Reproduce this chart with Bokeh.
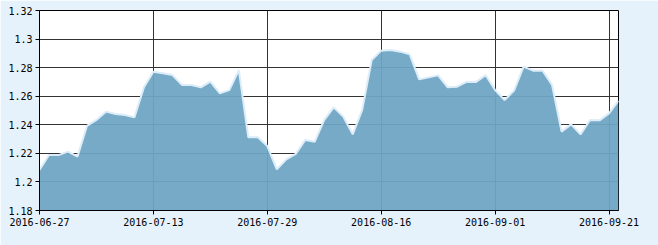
from bokeh.plotting import figure
from bokeh.models import Range1d, FixedTicker, CustomJSTickFormatter
from bokeh.embed import file_html
from bokeh.resources import INLINE

# Trading-day labels (tick every 12 trading days)
tick_index = [0, 12, 24, 36, 48, 60]
tick_labels = ["2016-06-27", "2016-07-13", "2016-07-29", "2016-08-16", "2016-09-01", "2016-09-21"]

# Net value series (62 trading days, 2016-06-27 .. 2016-09-22)
values = [
    1.2083, 1.2188, 1.2188, 1.2212, 1.2177, 1.2392, 1.2434, 1.2492, 1.2476, 1.2469,
    1.2452, 1.2662, 1.2772, 1.2760, 1.2748, 1.2679, 1.2679, 1.2662, 1.2702, 1.2620,
    1.2643, 1.2783, 1.2312, 1.2312, 1.2251, 1.2088, 1.2158, 1.2196, 1.2294, 1.2282,
    1.2434, 1.2522, 1.2457, 1.2333, 1.2504, 1.2853, 1.2919, 1.2924, 1.2912, 1.2893,
    1.2718, 1.2732, 1.2746, 1.2662, 1.2667, 1.2700, 1.2700, 1.2748, 1.2643, 1.2573,
    1.2639, 1.2807, 1.2779, 1.2779, 1.2679, 1.2352, 1.2403, 1.2333, 1.2434, 1.2431,
    1.2480, 1.2569,
]
y_ticks = [1.18, 1.20, 1.22, 1.24, 1.26, 1.28, 1.30, 1.32]
y_min, y_max = 1.18, 1.32

x = list(range(len(values)))

p = figure(width=658, height=245, output_backend="svg", toolbar_location=None,
           x_range=Range1d(0, len(values) - 1), y_range=Range1d(y_min, y_max),
           min_border_left=39, min_border_right=40, min_border_top=10, min_border_bottom=35)

p.background_fill_color = "white"
p.border_fill_color = "#e6f2fb"
p.outline_line_color = "black"
p.outline_line_width = 1

p.varea(x=x, y1=[y_min] * len(values), y2=values, fill_color="#6da5c4", fill_alpha=0.94)
p.line(x=x, y=values, line_color="#dcedf9", line_width=2)

font = "DejaVu Sans Mono"
for ax in (p.xaxis[0], p.yaxis[0]):
    ax.axis_line_color = "black"
    ax.axis_line_width = 1
    ax.major_tick_line_color = "black"
    ax.major_tick_out = 4
    ax.major_tick_in = 0
    ax.minor_tick_line_color = None
    ax.major_label_text_font = font
    ax.major_label_text_font_size = "10px"
    ax.major_label_text_color = "black"

p.xaxis.ticker = FixedTicker(ticks=tick_index)
p.xaxis.major_label_overrides = {i: lab for i, lab in zip(tick_index, tick_labels)}
p.xaxis.major_label_standoff = 3

p.yaxis.ticker = FixedTicker(ticks=y_ticks)
p.yaxis.formatter = CustomJSTickFormatter(code="return tick.toFixed(2).replace(/0+$/, '');")
p.yaxis.major_label_standoff = 3

p.xgrid.ticker = FixedTicker(ticks=tick_index)
p.ygrid.ticker = FixedTicker(ticks=y_ticks)
for g in (p.xgrid[0], p.ygrid[0]):
    g.grid_line_color = "#333333"
    g.grid_line_width = 1

open("out.html", "w").write(file_html(p, INLINE))
